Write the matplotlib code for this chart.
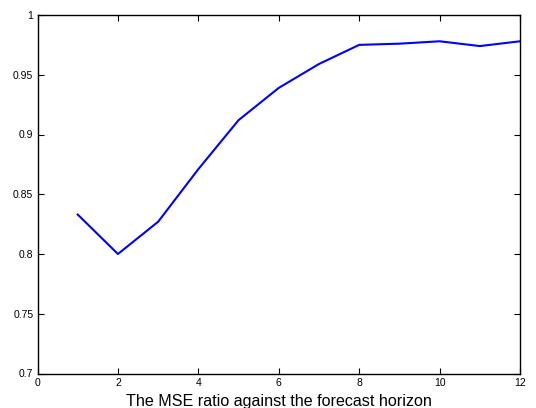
import matplotlib
matplotlib.use("Agg")
import matplotlib.pyplot as plt

horizon = [1, 2, 3, 4, 5, 6, 7, 8, 9, 10, 11, 12]
mse_ratio = [0.833, 0.800, 0.827, 0.871, 0.912, 0.939, 0.959, 0.975, 0.976, 0.978, 0.974, 0.978]
xticks = [0, 2, 4, 6, 8, 10, 12]
yticks = [0.7, 0.75, 0.8, 0.85, 0.9, 0.95, 1]
yticklabels = ["0.7", "0.75", "0.8", "0.85", "0.9", "0.95", "1"]

plt.rcParams['font.family'] = ['Liberation Sans', 'DejaVu Sans']

fig = plt.figure(figsize=(5.36, 4.08), dpi=100)
ax = fig.add_axes([37.5 / 536, 1 - 373.5 / 408, (520 - 37.5) / 536, (373.5 - 15) / 408])

ax.plot(horizon, mse_ratio, color="#0000ff", linewidth=1.5)

ax.set_xlim(0, 12)
ax.set_ylim(0.7, 1)
ax.set_xticks(xticks)
ax.set_yticks(yticks)
ax.set_yticklabels(yticklabels)
ax.tick_params(direction="in", top=True, right=True, length=4, width=0.8,
               labelsize=7.5, pad=3)
for s in ax.spines.values():
    s.set_linewidth(1.0)

ax.set_xlabel("The MSE ratio against the forecast horizon", fontsize=11.6, labelpad=4.5)

fig.savefig("out.png", dpi=100)
